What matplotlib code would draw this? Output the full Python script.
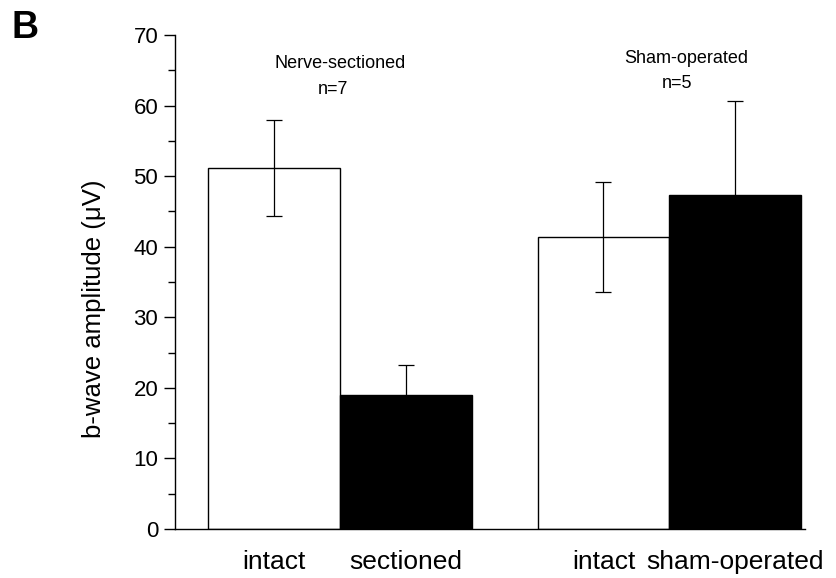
import matplotlib
matplotlib.use('Agg')
import matplotlib.pyplot as plt
from matplotlib.ticker import MultipleLocator

plt.rcParams['font.family'] = ['Liberation Sans', 'DejaVu Sans']

# data
conditions = ['intact', 'sectioned', 'intact', 'sham-operated']
amplitude = [51.2, 19.0, 41.4, 47.3]
sem = [6.8, 4.2, 7.8, 13.3]
fills = ['white', 'black', 'white', 'black']
groups = ['Nerve-sectioned', 'Sham-operated']
group_n = ['n=7', 'n=5']

positions = [0, 1, 2.5, 3.5]

fig = plt.figure(figsize=(8.37, 5.78), dpi=100)
ax = fig.add_axes([0.209, 0.0848, 0.753, 0.8546])

ax.bar(positions, amplitude, width=1.0, color=fills, edgecolor='black',
       linewidth=1.0, zorder=2)
ax.errorbar(positions, amplitude, yerr=sem, fmt='none', ecolor='black',
            elinewidth=0.9, capsize=6, capthick=0.9, zorder=3)

ax.set_xlim(-0.75, 4.03)
ax.set_ylim(0, 70)
ax.yaxis.set_major_locator(MultipleLocator(10))
ax.yaxis.set_minor_locator(MultipleLocator(5))
ax.tick_params(axis='y', which='major', length=8, width=1, labelsize=16, pad=4)
ax.tick_params(axis='y', which='minor', length=5, width=1)
ax.set_xticks(positions)
ax.set_xticklabels(conditions, fontsize=19)
ax.tick_params(axis='x', length=0, pad=15)
for s in ['top', 'right']:
    ax.spines[s].set_visible(False)
for s in ['left', 'bottom']:
    ax.spines[s].set_linewidth(1.0)

ax.set_ylabel('b-wave amplitude (\u03bcV)', fontsize=18.5)
ax.yaxis.set_label_coords(-0.109, 0.445)

ax.text(0.5, 66.0, groups[0], ha='center', va='center', fontsize=13)
ax.text(0.45, 62.3, group_n[0], ha='center', va='center', fontsize=13)
ax.text(3.13, 66.7, groups[1], ha='center', va='center', fontsize=13)
ax.text(3.06, 63.1, group_n[1], ha='center', va='center', fontsize=13)

fig.text(0.014, 0.982, 'B', fontsize=27, fontweight='bold', ha='left', va='top')

fig.savefig('out.png', dpi=100)
